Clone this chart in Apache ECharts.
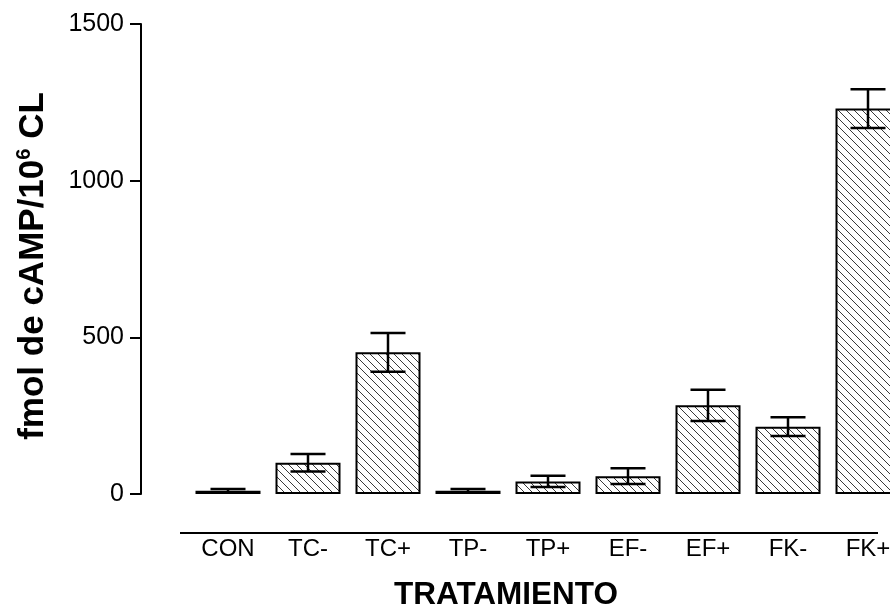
<!DOCTYPE html>
<html>
<head>
<meta charset="utf-8">
<script src="https://cdn.jsdelivr.net/npm/echarts@6/dist/echarts.min.js"></script>
<style>
html,body{margin:0;padding:0;background:#fff;}
#chart{width:890px;height:612px;}
</style>
</head>
<body>
<div id="chart"></div>
<script>
const categories = ['CON', 'TC-', 'TC+', 'TP-', 'TP+', 'EF-', 'EF+', 'FK-', 'FK+'];
const means = [10, 100, 452, 10, 40, 57, 283, 215, 1230];
const errors = [6, 28, 62, 6, 18, 25, 50, 30, 62];
const yTickValues = [0, 500, 1000, 1500];
const yTitle = 'fmol de cAMP/10';
const yTitleSup = '6';
const yTitleTail = ' CL';
const xTitle = 'TRATAMIENTO';

const FONT = '"Liberation Sans", Arial, Helvetica, sans-serif';

// hatch pattern
const tile = document.createElement('canvas');
tile.width = 8; tile.height = 8;
const tctx = tile.getContext('2d');
tctx.fillStyle = '#fff';
tctx.fillRect(0, 0, 8, 8);
tctx.strokeStyle = '#3a3a3a';
tctx.lineWidth = 1;
tctx.beginPath();
tctx.moveTo(-1, -1); tctx.lineTo(9, 9);
tctx.moveTo(7, -1); tctx.lineTo(9, 1);
tctx.moveTo(-1, 7); tctx.lineTo(1, 9);
tctx.stroke();

const chart = echarts.init(document.getElementById('chart'), null, {renderer: 'canvas'});

const option = {
  animation: false,
  backgroundColor: '#fff',
  grid: {left: 188, width: 720, top: 24, height: 470, containLabel: false, outerBoundsMode: 'none'},
  xAxis: {
    type: 'category',
    data: categories,
    axisLine: {show: false},
    axisTick: {show: false},
    axisLabel: {color: '#000', fontFamily: FONT, fontSize: 24, margin: 43}
  },
  yAxis: {
    type: 'value',
    min: 0, max: 1500, interval: 500,
    offset: 47,
    splitLine: {show: false},
    axisLine: {show: true, lineStyle: {color: '#000', width: 2}},
    axisTick: {show: true, length: 11, lineStyle: {color: '#000', width: 2}},
    axisLabel: {color: '#000', fontFamily: FONT, fontSize: 25, margin: 17,
      formatter: v => yTickValues.includes(v) ? String(v) : ''}
  },
  series: [
    {
      type: 'bar',
      data: means,
      barWidth: 65,
      itemStyle: {
        color: {image: tile, repeat: 'repeat'},
        borderColor: '#000',
        borderWidth: 2
      },
      z: 2
    },
    {
      type: 'custom',
      z: 5,
      data: categories.map((c, i) => [i, means[i], errors[i]]),
      renderItem: function (params, api) {
        const x = api.value(0), m = api.value(1), e = api.value(2);
        const top = api.coord([x, m + e]);
        const bot = api.coord([x, m - e]);
        const hw = 17.5;
        const st = {stroke: '#000', lineWidth: 2.5};
        return {
          type: 'group',
          children: [
            {type: 'line', shape: {x1: top[0], y1: top[1], x2: bot[0], y2: bot[1]}, style: st},
            {type: 'line', shape: {x1: top[0] - hw, y1: top[1], x2: top[0] + hw, y2: top[1]}, style: st},
            {type: 'line', shape: {x1: bot[0] - hw, y1: bot[1], x2: bot[0] + hw, y2: bot[1]}, style: st}
          ]
        };
      }
    }
  ],
  graphic: [
    {type: 'line', shape: {x1: 180, y1: 533, x2: 878, y2: 533}, style: {stroke: '#000', lineWidth: 2}},
    {
      type: 'text', x: 33, y: 266, rotation: Math.PI / 2,
      style: {
        text: '{a|' + yTitle + '}{s|' + yTitleSup + '}{a|' + yTitleTail + '}',
        align: 'center', verticalAlign: 'middle',
        rich: {
          a: {fontFamily: FONT, fontSize: 35, fontWeight: 'bold', fill: '#000', lineHeight: 38},
          s: {fontFamily: FONT, fontSize: 20, fontWeight: 'bold', fill: '#000', verticalAlign: 'top', lineHeight: 38}
        }
      }
    },
    {
      type: 'text', x: 506, y: 595,
      style: {text: xTitle, fontFamily: FONT, fontSize: 31.5, fontWeight: 'bold', fill: '#000', align: 'center', verticalAlign: 'middle'}
    }
  ]
};
chart.setOption(option);
</script>
</body>
</html>
